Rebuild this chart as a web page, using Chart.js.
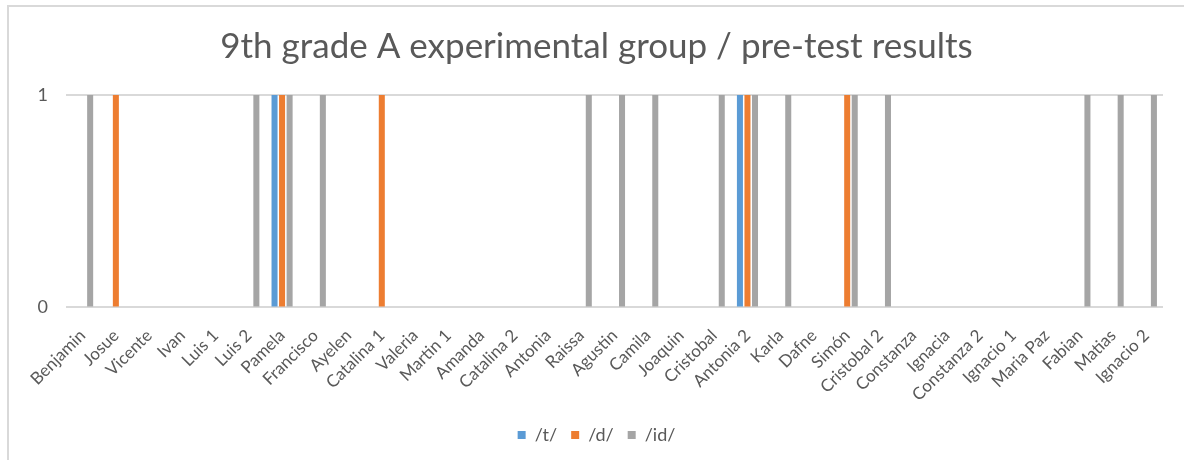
<!DOCTYPE html>
<html>
<head>
<meta charset="utf-8">
<title>9th grade A experimental group / pre-test results</title>
<script src="https://cdn.jsdelivr.net/npm/chart.js@4.4.1/dist/chart.umd.min.js"></script>
<style>
    html, body { margin: 0; padding: 0; background: #ffffff; }
    #wrap { position: relative; width: 1184px; height: 460px; overflow: hidden; }
    #frame {
        position: absolute; left: 7px; top: 5px; right: -10px; bottom: -10px;
        border-left: 2px solid #d9d9d9; border-top: 2px solid #d9d9d9;
        pointer-events: none;
    }
</style>
</head>
<body>
<div id="wrap">
    <canvas id="resultsChart" width="1184" height="460"></canvas>
    <div id="frame"></div>
</div>
<script>
// Alumnos del 9no A (grupo experimental)
const alumnos = ['Benjamin', 'Josue', 'Vicente', 'Ivan', 'Luis 1', 'Luis 2', 'Pamela', 'Francisco',
    'Ayelen', 'Catalina 1', 'Valeria', 'Martin 1', 'Amanda', 'Catalina 2', 'Antonia', 'Raissa',
    'Agustin', 'Camila', 'Joaquin', 'Cristobal', 'Antonia 2', 'Karla', 'Dafne', 'Simón',
    'Cristobal 2', 'Constanza', 'Ignacia', 'Constanza 2', 'Ignacio 1', 'Maria Paz', 'Fabian',
    'Matias', 'Ignacio 2'];

// Resultados del pre-test por sonido
const sonidoT  = [0, 0, 0, 0, 0, 0, 1, 0, 0, 0, 0, 0, 0, 0, 0, 0, 0, 0, 0, 0, 1, 0, 0, 0, 0, 0, 0, 0, 0, 0, 0, 0, 0];
const sonidoD  = [0, 1, 0, 0, 0, 0, 1, 0, 0, 1, 0, 0, 0, 0, 0, 0, 0, 0, 0, 0, 1, 0, 0, 1, 0, 0, 0, 0, 0, 0, 0, 0, 0];
const sonidoID = [1, 0, 0, 0, 0, 1, 1, 1, 0, 0, 0, 0, 0, 0, 0, 1, 1, 1, 0, 1, 1, 1, 0, 1, 1, 0, 0, 0, 0, 0, 1, 1, 1];

const ticksY = [0, 1];

const textoGris = '#595959';
const fuente = 'Lato, "Open Sans", sans-serif';

const ctx = document.getElementById('resultsChart').getContext('2d');
new Chart(ctx, {
    type: 'bar',
    data: {
        labels: alumnos,
        datasets: [
            { label: '/t/', data: sonidoT, backgroundColor: '#5b9bd5' },
            { label: '/d/', data: sonidoD, backgroundColor: '#ed7d31' },
            { label: '/id/', data: sonidoID, backgroundColor: '#a5a5a5' }
        ]
    },
    options: {
        responsive: false,
        animation: false,
        categoryPercentage: 0.68,
        barPercentage: 0.8,
        layout: {
            padding: { left: 30, right: 21, top: 0, bottom: 6 }
        },
        plugins: {
            title: {
                display: true,
                text: '9th grade A experimental group / pre-test results',
                color: textoGris,
                font: { family: fuente, size: 35, weight: 'normal' },
                padding: { top: 26, bottom: 27 }
            },
            legend: {
                position: 'bottom',
                labels: {
                    color: textoGris,
                    font: { family: fuente, size: 18 },
                    boxWidth: 8,
                    boxHeight: 8,
                    padding: 14
                }
            },
            tooltip: { enabled: false }
        },
        scales: {
            x: {
                grid: { display: false },
                border: { display: false },
                afterFit: function (scale) { scale.height = scale.height - 3; },
                ticks: {
                    color: textoGris,
                    font: { family: fuente, size: 17 },
                    minRotation: 45,
                    maxRotation: 45,
                    autoSkip: false,
                    padding: 10
                }
            },
            y: {
                min: ticksY[0],
                max: ticksY[ticksY.length - 1],
                afterFit: function (scale) { scale.width = 36; },
                afterBuildTicks: function (scale) {
                    scale.ticks = ticksY.map(v => ({ value: v }));
                },
                grid: { color: '#d9d9d9', lineWidth: 2, drawTicks: false },
                border: { display: false },
                ticks: {
                    color: textoGris,
                    font: { family: fuente, size: 18 },
                    padding: 18
                }
            }
        }
    }
});
</script>
</body>
</html>
